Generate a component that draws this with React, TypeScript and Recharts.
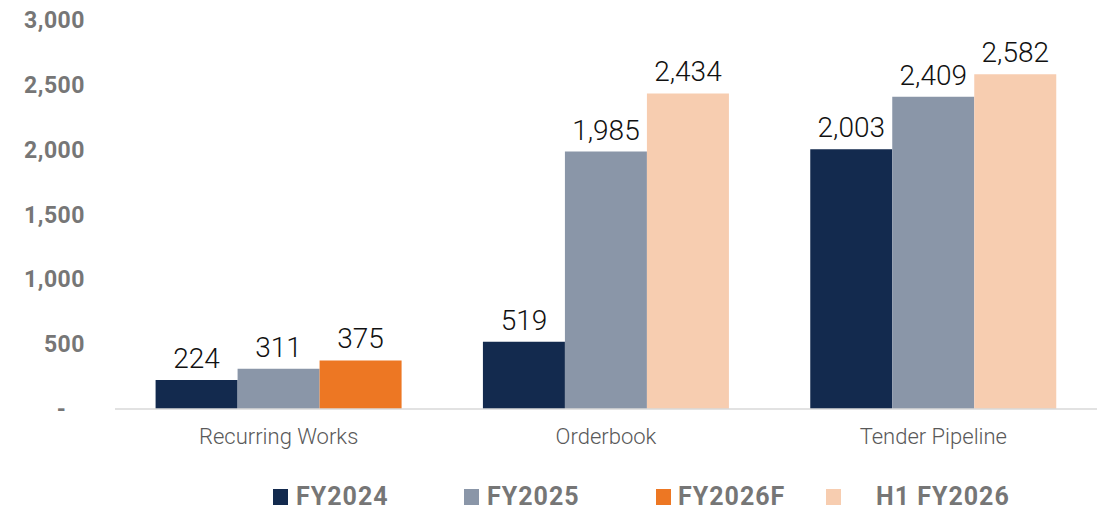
import React from 'react';
import {
  BarChart,
  Bar,
  XAxis,
  YAxis,
  Legend,
  LabelList,
} from 'recharts';

const categories = ['Recurring Works', 'Orderbook', 'Tender Pipeline'];
const fy2024 = [224, 519, 2003];
const fy2025 = [311, 1985, 2409];
const fy2026f = [375, null, null];
const h1fy2026 = [null, 2434, 2582];
const yTicks = [0, 500, 1000, 1500, 2000, 2500, 3000];

// FY2026F and H1 FY2026 share the third slot of each group
const series = [
  { key: 'fy2024', name: 'FY2024', color: '#132a4e', stack: 's1' },
  { key: 'fy2025', name: 'FY2025', color: '#8a96a8', stack: 's2' },
  { key: 'fy2026f', name: 'FY2026F', color: '#ed7723', stack: 's3' },
  { key: 'h1fy2026', name: 'H1 FY2026', color: '#f7cdb0', stack: 's3' },
];

const data = categories.map((name, i) => ({
  name,
  fy2024: fy2024[i],
  fy2025: fy2025[i],
  fy2026f: fy2026f[i],
  h1fy2026: h1fy2026[i],
}));

// legend item left edges and icon-to-text gaps, matching the original layout
const legendX = [273, 464, 656, 826];
const legendGap = [8, 8, 7, 35];

const fmt = (v: any) => (v == null ? '' : Number(v).toLocaleString('en-US'));

const renderLegend = () => (
  <div style={{ position: 'relative', width: 1109, height: 62 }}>
    {series.map((s, i) => (
      <div
        key={s.key}
        style={{
          position: 'absolute',
          left: legendX[i],
          top: 35,
          display: 'flex',
          alignItems: 'center',
          height: 26,
        }}
      >
        <span
          style={{
            display: 'inline-block',
            width: 15,
            height: 16,
            background: s.color,
            marginRight: legendGap[i],
          }}
        />
        <span
          style={{
            fontFamily: 'Roboto, sans-serif',
            fontWeight: 700,
            fontSize: 25,
            letterSpacing: 1,
            color: '#767676',
            lineHeight: '26px',
          }}
        >
          {s.name}
        </span>
      </div>
    ))}
  </div>
);

export default function App() {
  return (
    <div style={{ position: 'absolute', left: 0, top: 0, background: '#fff' }}>
      <BarChart
        width={1109}
        height={511}
        data={data}
        margin={{ top: 20, right: 12, bottom: 0, left: 15 }}
        barCategoryGap="12.4%"
        barGap={0}
      >
        <XAxis
          dataKey="name"
          height={40}
          tickLine={false}
          axisLine={{ stroke: '#d9d9d9', strokeWidth: 1.5 }}
          tickMargin={13}
          tick={{ fill: '#595959', fontSize: 22, fontFamily: 'Roboto, sans-serif', fontWeight: 300 }}
        />
        <YAxis
          width={100}
          domain={[0, 3000]}
          ticks={yTicks}
          tickLine={false}
          axisLine={false}
          tickMargin={24}
          tickFormatter={(v: number) => (v === 0 ? '-\u00a0\u00a0\u00a0' : v.toLocaleString('en-US'))}
          tick={{ fill: '#767676', fontSize: 23, fontWeight: 700, fontFamily: 'Roboto, sans-serif', letterSpacing: 0.5 }}
        />
        <Legend verticalAlign="bottom" height={62} content={renderLegend} wrapperStyle={{ left: 0, bottom: 0, width: 1109 }} />
        {series.map((s) => (
          <Bar
            key={s.key}
            dataKey={s.key}
            name={s.name}
            fill={s.color}
            stackId={s.stack}
            isAnimationActive={false}
          >
            <LabelList
              dataKey={s.key}
              position="top"
              offset={12}
              formatter={fmt}
              style={{ fill: '#111', fontSize: 28, fontFamily: 'Roboto, sans-serif', fontWeight: 300 }}
            />
          </Bar>
        ))}
      </BarChart>
    </div>
  );
}
